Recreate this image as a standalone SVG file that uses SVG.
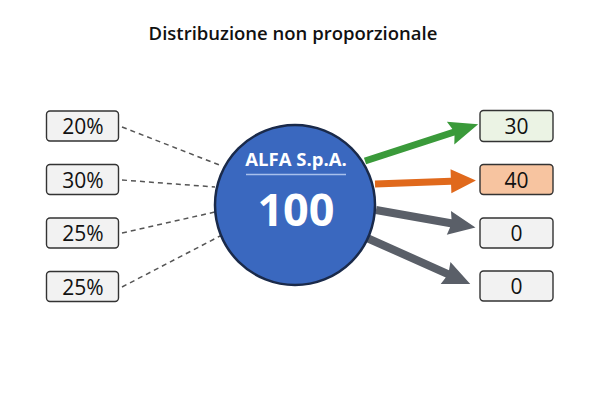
<svg xmlns="http://www.w3.org/2000/svg" width="600" height="400" viewBox="0 0 600 400">
<style>
.box{fill:#f2f2f2;stroke:#333;stroke-width:1.4}
.t{font-family:"Open Sans","Noto Sans",sans-serif;font-size:21px;font-weight:500;fill:#111;text-anchor:middle}
.dash{stroke:#555;stroke-width:1.5;stroke-dasharray:5 4;fill:none}
</style>
<rect width="600" height="400" fill="#fff"/>
<text x="293" y="40" font-family="'Open Sans','Noto Sans',sans-serif" font-size="18.5" font-weight="600" fill="#111" text-anchor="middle">Distribuzione non proporzionale</text>
<g id="connectors">
<line class="dash" x1="122" y1="127" x2="222" y2="166"/>
<line class="dash" x1="122" y1="180" x2="215" y2="187"/>
<line class="dash" x1="122" y1="233" x2="215" y2="212"/>
<line class="dash" x1="122" y1="287" x2="222" y2="235"/>
<g transform="translate(365,161) rotate(-18)"><polygon points="0,-3.5 93,-3.5 90,-12 119,0 90,12 93,3.5 0,3.5" fill="#3a9a3a"/></g>
<g transform="translate(375,184) rotate(-2)"><polygon points="0,-3.5 76,-3.5 76,-12 101,0 76,12 76,3.5 0,3.5" fill="#e0691c"/></g>
<g transform="translate(376,210) rotate(10)"><polygon points="0,-4 76,-4 74,-12 101,0 74,12 76,4 0,4" fill="#5a5f68"/></g>
<g transform="translate(367,238) rotate(24)"><polygon points="0,-4 88,-4 86,-12 113,0 86,12 88,4 0,4" fill="#5a5f68"/></g>
</g>
<g id="center">
<circle cx="295" cy="205" r="80" fill="#3a68bf" stroke="#1a2a4a" stroke-width="2.5"/>
<text x="296" y="166" font-family="'Open Sans','Noto Sans',sans-serif" font-size="18.5" font-weight="bold" fill="#fff" text-anchor="middle">ALFA S.p.A.</text>
<line x1="246" y1="174.5" x2="346" y2="174.5" stroke="#a8c0ec" stroke-width="1.5"/>
<text x="296" y="226" font-family="'Open Sans','Noto Sans',sans-serif" font-size="45" font-weight="bold" fill="#fff" text-anchor="middle">100</text>
</g>
<g id="l1"><rect class="box" x="46.5" y="111" width="72" height="30" rx="3.5"/><text class="t" x="83" y="134">20%</text></g>
<g id="l2"><rect class="box" x="46.5" y="164.5" width="72" height="30" rx="3.5"/><text class="t" x="83" y="188">30%</text></g>
<g id="l3"><rect class="box" x="46.5" y="218" width="72" height="30" rx="3.5"/><text class="t" x="83" y="241">25%</text></g>
<g id="l4"><rect class="box" x="46.5" y="271.5" width="72" height="30" rx="3.5"/><text class="t" x="83" y="295">25%</text></g>
<g id="r1"><rect class="box" x="480" y="110.5" width="73" height="31" rx="3.5" style="fill:#ebf3e4"/><text class="t" x="516.5" y="134">30</text></g>
<g id="r2"><rect class="box" x="480" y="164.5" width="73" height="30" rx="3.5" style="fill:#f7c4a0"/><text class="t" x="516.5" y="188">40</text></g>
<g id="r3"><rect class="box" x="480" y="218" width="73" height="30" rx="3.5"/><text class="t" x="516.5" y="241">0</text></g>
<g id="r4"><rect class="box" x="480" y="271" width="73" height="30" rx="3.5"/><text class="t" x="516.5" y="294">0</text></g>
</svg>
